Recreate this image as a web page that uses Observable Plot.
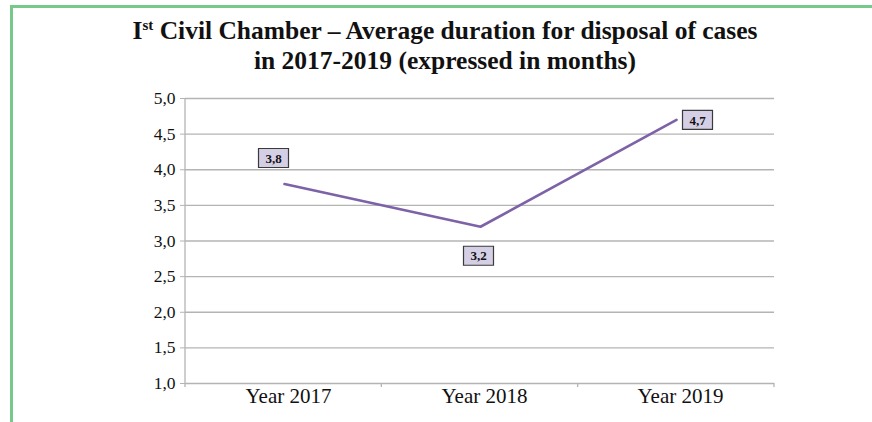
<!DOCTYPE html>
<html>
<head>
<meta charset="utf-8">
<script src="https://cdn.jsdelivr.net/npm/d3@7"></script>
<script src="https://cdn.jsdelivr.net/npm/@observablehq/plot@0.6"></script>
<style>
  html, body { margin: 0; padding: 0; background: #fff; }
  body { width: 872px; height: 422px; position: relative; overflow: hidden; }
  #frame { position: absolute; left: 10px; top: 5px; width: 870px; height: 430px;
           border-top: 3px solid #76c98b; border-left: 3px solid #76c98b; }
  #title { position: absolute; left: 12px; top: 0; width: 866px; height: 85px;
           font-family: "Liberation Serif", "Times New Roman", serif; font-weight: bold;
           font-size: 25.5px; line-height: 30px; text-align: center; color: #111; }
  #title .l1 { position: absolute; left: 0; right: 0; top: 16px; }
  #title .l2 { position: absolute; left: 0; right: 0; top: 46px; }
  #title sup { font-size: 15px; vertical-align: 9px; line-height: 0; }
  #chart { position: absolute; left: 0; top: 85px; }
  #chart text { font-family: "Liberation Serif", "Times New Roman", serif; }
</style>
</head>
<body>
<div id="frame"></div>
<div id="title">
  <div class="l1">I<sup>st</sup> Civil Chamber – Average duration for disposal of cases</div>
  <div class="l2">in 2017-2019 (expressed in months)</div>
</div>
<div id="chart"></div>
<script>
const years = ["Year 2017", "Year 2018", "Year 2019"];
const durations = [3.8, 3.2, 4.7];
const labels = ["3,8", "3,2", "4,7"];
const yTicks = [1, 1.5, 2, 2.5, 3, 3.5, 4, 4.5, 5];

const data = years.map((y, i) => ({year: y, value: durations[i], label: labels[i]}));

const lineColor = "#7d62a8";
const gridColor = "#b4b4b4";
const boxFill = "#d5cfe6";
const boxStroke = "#3a3a3a";

const box = {draw(ctx) { ctx.rect(-15, -9.5, 30, 19); }};

// per-label offsets (styling)
const offsets = [[-11, -26], [-2, 29], [21, 0]];

const labelMarks = data.flatMap((d, i) => [
  Plot.dot([d], {x: "year", y: "value", symbol: box, r: 1, fill: boxFill, stroke: boxStroke,
                 strokeWidth: 1.2, dx: offsets[i][0], dy: offsets[i][1]}),
  Plot.text([d], {x: "year", y: "value", text: "label", dx: offsets[i][0], dy: offsets[i][1] + 0.5,
                  fontSize: 13, fontWeight: "bold", fill: "#111"})
]);

const W = 872, H = 337;
const chart = Plot.plot({
  width: W, height: H,
  marginLeft: 185, marginRight: 98, marginTop: 13, marginBottom: 39,
  style: {fontFamily: "Liberation Serif, serif", background: "transparent"},
  x: {type: "point", domain: years, padding: 0.5, axis: null},
  y: {domain: [1, 5], axis: null},
  marks: [
    Plot.ruleY(yTicks, {stroke: gridColor, strokeWidth: 1.3}),
    Plot.axisY(yTicks, {tickSize: 5, stroke: gridColor, fontSize: 17.5, fill: "#111", label: null,
                        tickPadding: 5, tickFormat: d => d.toFixed(1).replace(".", ",")}),
    Plot.axisX({tickSize: 0, fontSize: 21, fill: "#111", tickPadding: 5, dx: 4, label: null}),
    Plot.line(data, {x: "year", y: "value", stroke: lineColor, strokeWidth: 2.6}),
    ...labelMarks
  ]
});
document.getElementById("chart").appendChild(chart);

// vertical axis line and category boundary ticks (Excel-style), positioned from the plot's scales
const ys = chart.scale("y");
const svg = d3.select(chart);
const x0 = 185, x1 = W - 98, yb = ys.apply(1), yt = ys.apply(5);
svg.append("line").attr("x1", x0).attr("x2", x0).attr("y1", yt).attr("y2", yb + 4)
  .attr("stroke", gridColor).attr("stroke-width", 1.3);
const step = (x1 - x0) / years.length;
for (let i = 1; i <= years.length; i++) {
  const xx = x0 + i * step;
  svg.append("line").attr("x1", xx).attr("x2", xx).attr("y1", yb).attr("y2", yb + 4)
    .attr("stroke", gridColor).attr("stroke-width", 1.3);
}
</script>
</body>
</html>
